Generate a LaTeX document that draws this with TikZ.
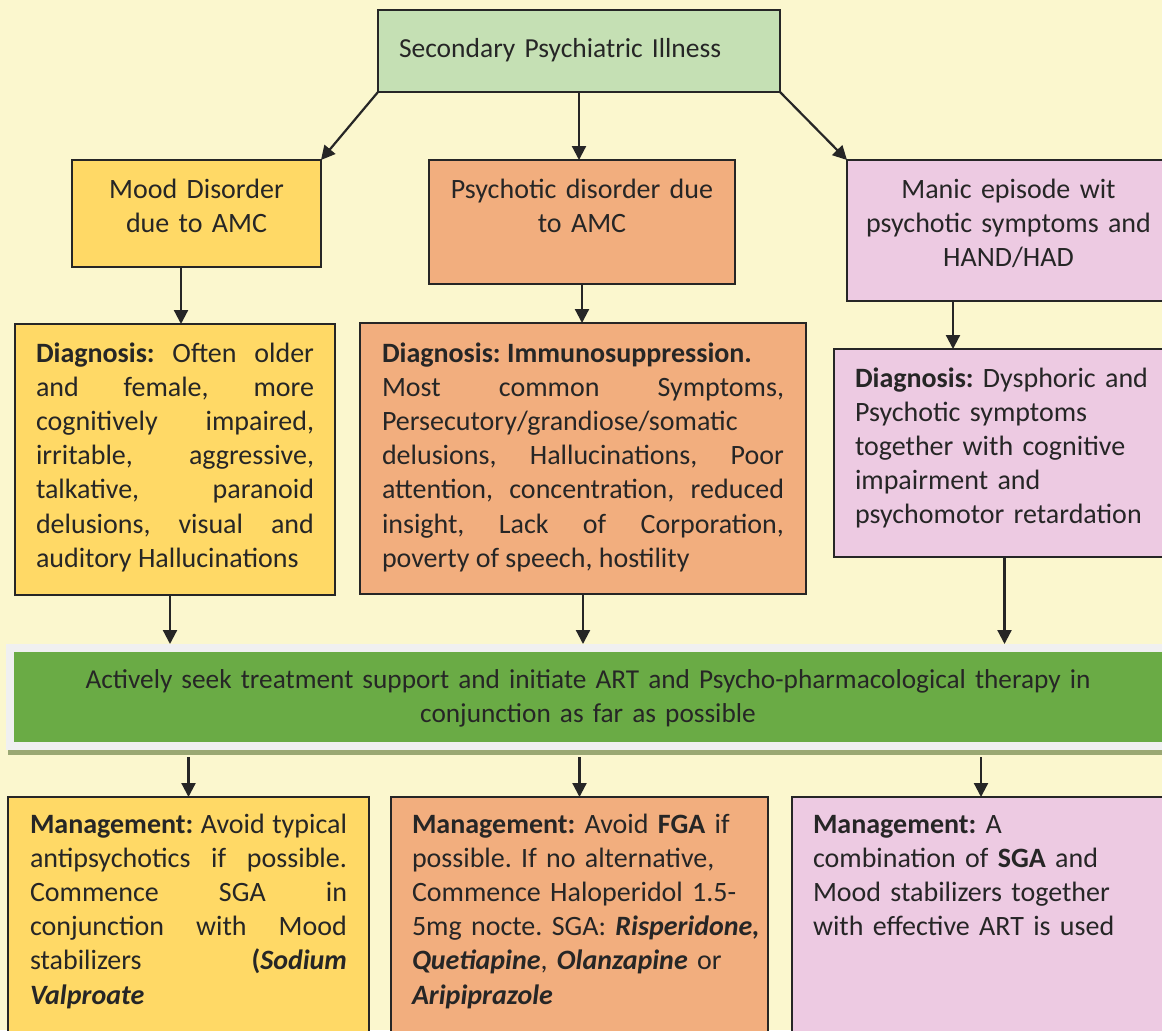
\documentclass[tikz,border=0pt]{standalone}
\usepackage{fontspec}
\setmainfont{Carlito}
\usetikzlibrary{arrows.meta}
\frenchspacing
\hyphenpenalty=10000

\definecolor{bgyellow}{HTML}{FBF7CE}
\definecolor{topgreen}{HTML}{C5E0B4}
\definecolor{moodyellow}{HTML}{FFD966}
\definecolor{psychorange}{HTML}{F2AE7E}
\definecolor{manicpink}{HTML}{EDCAE2}
\definecolor{bandgreen}{HTML}{6AAB45}
\definecolor{framegray}{HTML}{F0F0F0}
\definecolor{shadowolive}{HTML}{9AA873}
\definecolor{linegray}{HTML}{262626}

\tikzset{
  box/.style={draw=linegray, line width=0.8pt, anchor=north west, outer sep=0pt,
    inner ysep=0pt, text=linegray, font=\fontsize{14pt}{17.1pt}\selectfont},
  arr/.style={-{Triangle[width=7pt,length=7pt]}, line width=1.1pt, draw=linegray},
}

\begin{document}
\begin{tikzpicture}[x=0.5pt, y=-0.5pt]
  \useasboundingbox (0,0) rectangle (1162,1030);
  \clip (0,0) rectangle (1162,1030);
  \fill[bgyellow] (0,0) rectangle (1162,1030);

  % Top row
  \node[box, fill=topgreen, inner xsep=10.5pt, text width=180pt, align=left,
    font=\fontsize{13.75pt}{17.1pt}\selectfont,
    text height=23.5pt, text depth=17.5pt] (top) at (378,10) {Secondary Psychiatric Illness};
  \node[box, fill=moodyellow, inner xsep=5pt, text width=114.5pt, align=center,
    text height=19pt, text depth=34.5pt] (mood) at (72,160) {Mood Disorder\\ due to AMC};
  \node[box, fill=psychorange, inner xsep=5pt, text width=143pt, align=center,
    text height=19pt, text depth=43pt] (psych) at (429,160) {Psychotic disorder due\\ to AMC};
  \node[box, fill=manicpink, inner xsep=5pt, text width=151.5pt, align=center,
    text height=19pt, text depth=51.5pt] (manic) at (847,160) {Manic episode wit\\ psychotic symptoms and\\ HAND/HAD};

  % Diagnosis row
  \node[box, fill=moodyellow, inner xsep=10.5pt, text width=139pt, align=justify,
    text height=19pt, text depth=116.5pt] (moodDx) at (15,324)
    {\textbf{Diagnosis:} Often older\linebreak and female, more\linebreak cognitively impaired,\linebreak
     irritable, aggressive,\linebreak talkative, paranoid\linebreak delusions, visual and\linebreak
     auditory Hallucinations};
  \node[box, fill=psychorange, inner xsep=11pt, text width=201pt, align=justify,
    text height=19.5pt, text depth=116pt] (psychDx) at (360,323)
    {\textbf{Diagnosis: Immunosuppression.}\newline Most common Symptoms,\linebreak
     Persecutory/grandiose/somatic\newline delusions, Hallucinations, Poor\linebreak
     attention, concentration, reduced\linebreak insight, Lack of Corporation,\linebreak
     poverty of speech, hostility};
  \node[box, fill=manicpink, inner xsep=10.5pt, text width=149.5pt, align=left,
    text height=19pt, text depth=85pt] (manicDx) at (834,349)
    {\textbf{Diagnosis:} Dysphoric and\\ Psychotic symptoms\\ together with cognitive\\
     impairment and\\ psychomotor retardation};

  % Treatment band
  \fill[shadowolive] (8,744) rectangle (1175,755);
  \node[box, draw=framegray, line width=4pt, fill=bandgreen, inner xsep=0pt, text width=578pt,
    align=center, font=\fontsize{13.65pt}{17.1pt}\selectfont,
    text height=20pt, text depth=29pt] (band) at (10,648)
    {Actively seek treatment support and initiate ART and Psycho-pharmacological therapy in\\
     conjunction as far as possible};

  % Management row
  \node[box, fill=moodyellow, inner xsep=11pt, text width=158.5pt, align=justify,
    text height=18pt, text depth=112pt] (mgmtL) at (8,797)
    {\textbf{Management:} Avoid typical\linebreak antipsychotics if possible.\linebreak
     Commence SGA in\linebreak conjunction with Mood\linebreak
     stabilizers \textbf{(\textit{Sodium}}\linebreak \textbf{\textit{Valproate}}};
  \node[box, fill=psychorange, inner xsep=10.5pt, text width=167.5pt, align=left,
    text height=18pt, text depth=112pt] (mgmtM) at (391,797)
    {\textbf{Management:} Avoid \textbf{FGA} if\\ possible. If no alternative,\\
     Commence Haloperidol 1.5-\\ 5mg~nocte.~SGA:~\textbf{\textit{Risperidone,}}\\
     \textbf{\textit{Quetiapine}}, \textbf{\textit{Olanzapine}} or\\ \textbf{\textit{Aripiprazole}}};
  \node[box, fill=manicpink, inner xsep=10.5pt, text width=168pt, align=left,
    text height=18pt, text depth=112pt] (mgmtR) at (792,797)
    {\textbf{Management:} A\\ combination of \textbf{SGA} and\\ Mood stabilizers together\\
     with effective ART is used};

  % Arrows
  \draw[arr] (top.south west) -- (mood.north east);
  \draw[arr] (top.south) -- (top.south |- psych.north);
  \draw[arr] (top.south east) -- (manic.north west);

  \draw[arr] ([xshift=-7.75pt]mood.south) -- ([xshift=-7.75pt]mood.north |- moodDx.north);
  \draw[arr] (psych.south) -- (psych.south |- psychDx.north);
  \draw[arr] ([xshift=-27.75pt]manic.south) -- ([xshift=-27.75pt]manic.south |- manicDx.north);

  \draw[arr, shorten >=2pt] ([xshift=-2.5pt]moodDx.south) -- ([xshift=-2.5pt]moodDx.south |- band.north);
  \draw[arr, shorten >=2pt] (psychDx.south) -- (psychDx.south |- band.north);
  \draw[arr, shorten >=2pt] (manicDx.south) -- (manicDx.south |- band.north);

  \draw[arr, shorten <=5.5pt] (band.south -| mgmtL.north) -- (mgmtL.north);
  \draw[arr, shorten <=5.5pt] (band.south -| mgmtM.north) -- (mgmtM.north);
  \draw[arr, shorten <=5.5pt] (band.south -| mgmtR.north) -- (mgmtR.north);
\end{tikzpicture}
\end{document}
